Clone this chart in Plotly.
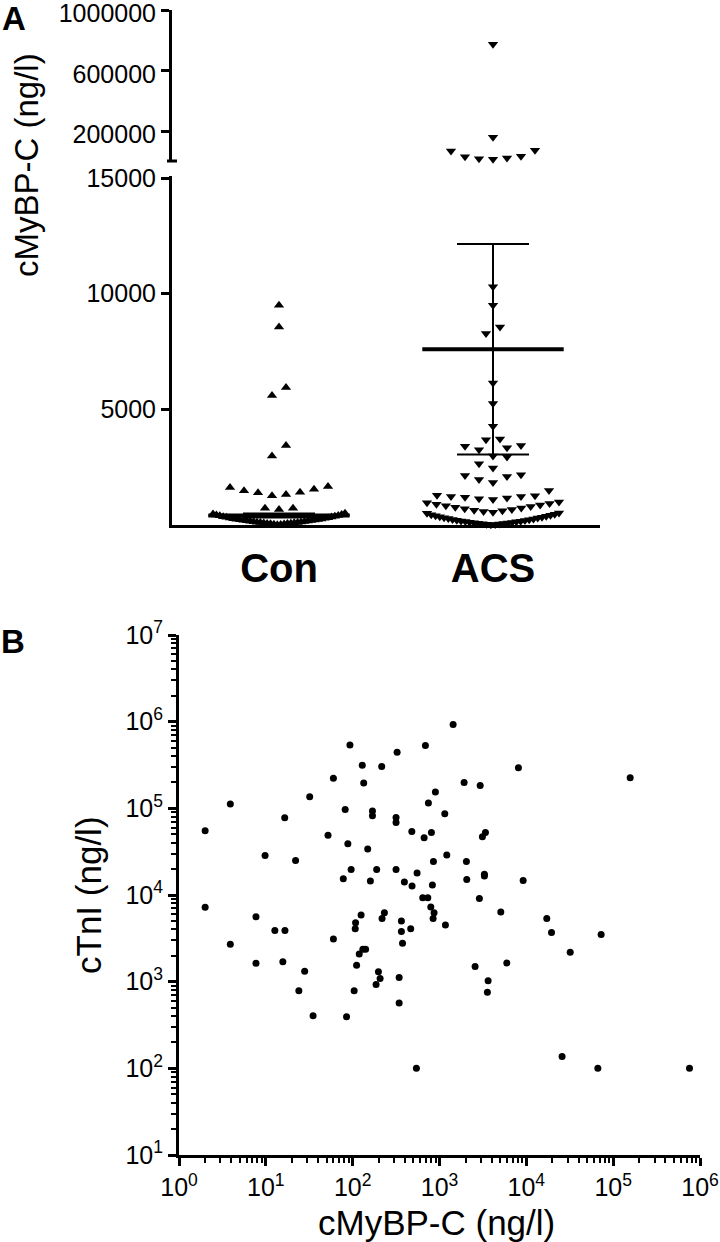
import plotly.graph_objects as go

W, H = 720, 1242

# ---------------- DATA ----------------
categories = ["Con", "ACS"]

con_values = [9500, 8560, 5940, 5600, 3440, 2980, 1667, 1623, 1550, 1480, 1420, 1394,
              1320, 1264, 727, 727, 670,
              12, 25, 33, 41, 52, 60, 68, 77, 85, 93, 104, 112, 121, 133, 140, 152, 161,
              170, 182, 195, 204, 215, 228, 239, 250, 263, 275, 288, 301, 317, 330, 348,
              362, 380, 397, 415, 436, 458, 480, 505]

acs_values = [775000, 163000, 77700, 73000, 38300, 35600, 27000, 22400, 18500,
              10300, 9500, 8560, 8280, 6140, 5250, 4265, 3715, 3690, 3440, 3400, 3340,
              3255, 2980, 2935, 2650, 2460, 2170, 2140, 2100, 1970, 1840,
              1494, 1290, 1262, 1234, 1234, 1200, 1170, 1140, 1105,
              995, 962, 930, 898, 866, 835, 801, 768, 735, 702, 668, 640, 612, 580,
              548, 522, 505,
              15, 22, 31, 48, 55, 63, 78, 86, 97, 112, 124, 138, 149, 163, 177, 192,
              208, 226, 241, 259, 277, 298, 316, 335, 352, 374, 396, 418, 441, 468]

con_mean, con_err = 410, 90
acs_mean, acs_err = 7600, 4550

lower_ticks = [5000, 10000, 15000]
upper_ticks = [200000, 600000, 1000000]

# Panel B: cMyBP-C (x) vs cTnI (y)
mybpc = [2.0, 2.0, 3.9, 3.9, 7.7, 7.7, 12.7, 16.6, 15.7, 28, 24, 35, 85, 60, 104, 111,
         16.5, 9.8, 22, 32, 60, 93, 82, 52, 88, 96, 78, 129, 134, 169, 169, 149, 160,
         125, 108, 107, 131, 141, 119,
         1435, 688, 325, 216, 8110, 157000, 1920, 2940, 897, 745, 1150, 316, 316, 480,
         665, 807, 3380, 3120, 1213, 189, 316, 851, 2040, 552, 394, 483, 828, 2060,
         3290, 3290, 9190, 641, 733, 2880, 794, 866, 844, 232, 218, 364, 466, 364,
         1170, 5080, 17200, 19500, 72700,
         32000, 375, 2570, 5960, 198, 207, 186, 343, 343, 3630, 3560, 25800, 542,
         66600, 757000]
ctni = [55000, 7200, 112000, 2700, 5600, 1630, 3900, 3900, 1700, 1320, 785, 405, 394,
        3100, 785, 1550,
        78000, 28600, 25000, 136000, 223000, 537000, 97000, 49000, 39000, 19700, 15400,
        315000, 196000, 93000, 82000, 34000, 14500,
        5870, 4780, 4080, 2360, 2360, 2080,
        929000, 531000, 445000, 304000, 293000, 225000, 199000, 184000, 154000, 115000,
        86400, 78500, 68800, 54100, 45700, 52700, 52700, 47000, 28900, 19700, 19700,
        24400, 24400, 18000, 14100, 12700, 13000, 15100, 17300, 16600, 14700, 9290,
        9290, 9120, 7250, 6230, 5370, 6230, 5370, 5000, 4080, 3800, 4500, 6350, 5370,
        3700, 3510,
        2190, 2770, 1500, 1640, 1300, 1090, 930, 1120, 566, 1025, 753, 137, 100, 100,
        100]

log_tick_vals = [1, 10, 100, 1000, 10000, 100000, 1000000]
x_tick_text = ["10<sup>0</sup>", "10<sup>1</sup>", "10<sup>2</sup>", "10<sup>3</sup>",
               "10<sup>4</sup>", "10<sup>5</sup>", "10<sup>6</sup>"]
y_log_tick_vals = [10, 100, 1000, 10000, 100000, 1000000, 10000000]
y_tick_text = ["10<sup>1</sup>", "10<sup>2</sup>", "10<sup>3</sup>", "10<sup>4</sup>",
               "10<sup>5</sup>", "10<sup>6</sup>", "10<sup>7</sup>"]

# ---------------- LAYOUT GEOMETRY (pixels) ----------------
FONT = "Liberation Sans, Arial, sans-serif"
AX_L, AX_R = 172, 600            # panel A x-extent
LOW_TOP_PX, LOW_BOT_PX = 176, 525
UP_TOP_PX, UP_BOT_PX = 10, 160
LOW_RANGE = [0, 15090]
UP_RANGE = [14000, 1000000]
B_L, B_R, B_T, B_B = 179, 700, 635, 1155


def fx(p):
    return p / W


def fy(p):
    return 1 - p / H


def val_to_px(v):
    if v <= LOW_RANGE[1]:
        return LOW_BOT_PX - (v - LOW_RANGE[0]) / (LOW_RANGE[1] - LOW_RANGE[0]) * (LOW_BOT_PX - LOW_TOP_PX)
    return UP_BOT_PX - (v - UP_RANGE[0]) / (UP_RANGE[1] - UP_RANGE[0]) * (UP_BOT_PX - UP_TOP_PX)


def swarm(values, spacing=14.0, max_half=66.0, row_h=12.0):
    order = sorted(range(len(values)), key=lambda i: values[i])
    rows, cur, start = [], [], None
    for i in order:
        p = val_to_px(values[i])
        if cur and abs(start - p) > row_h:
            rows.append(cur)
            cur = []
        if not cur:
            start = p
        cur.append(i)
    if cur:
        rows.append(cur)
    offs = [0.0] * len(values)
    for row in rows:
        n = len(row)
        s = spacing if n <= 1 else min(spacing, 2 * max_half / (n - 1))
        c = (n - 1) / 2
        slots = sorted(range(n), key=lambda k: (abs(k - c), k))
        for idx, slot in zip(row, slots):
            offs[idx] = (slot - c) * s
    return offs


px_per_unit = (AX_R - AX_L) / 2.0


def positions(values, center):
    return [center + o / px_per_unit for o in swarm(values)]


con_x = positions(con_values, 0)
acs_x = positions(acs_values, 1)

fig = go.Figure()

MS = 9
split = LOW_RANGE[1]
for vals, xs, sym in [(con_values, con_x, "triangle-up"), (acs_values, acs_x, "triangle-down")]:
    lo = [(x, v) for x, v in zip(xs, vals) if v <= split]
    hi = [(x, v) for x, v in zip(xs, vals) if v > split]
    if lo:
        fig.add_trace(go.Scatter(x=[p[0] for p in lo], y=[p[1] for p in lo], mode="markers",
                                 marker=dict(symbol=sym, size=MS, color="black"),
                                 xaxis="x", yaxis="y", showlegend=False, cliponaxis=False))
    if hi:
        fig.add_trace(go.Scatter(x=[p[0] for p in hi], y=[p[1] for p in hi], mode="markers",
                                 marker=dict(symbol=sym, size=MS, color="black"),
                                 xaxis="x2", yaxis="y2", showlegend=False, cliponaxis=False))

# mean lines (line-ew width = 1.4 * size) + error bars
fig.add_trace(go.Scatter(x=[0, 1], y=[con_mean, acs_mean], mode="markers",
                         marker=dict(symbol="line-ew-open", size=101, color="black",
                                     line=dict(width=4, color="black")),
                         error_y=dict(type="data", array=[con_err, acs_err], visible=True,
                                      color="black", thickness=2, width=36),
                         xaxis="x", yaxis="y", showlegend=False, cliponaxis=False))

# Panel B scatter
fig.add_trace(go.Scatter(x=mybpc, y=ctni, mode="markers",
                         marker=dict(symbol="circle", size=7, color="black"),
                         xaxis="x3", yaxis="y3", showlegend=False, cliponaxis=False))

axis_common = dict(showgrid=False, zeroline=False, showline=True, linecolor="black",
                   linewidth=3, ticks="outside", tickcolor="black", tickwidth=2.5,
                   ticklen=8, automargin=False, ticklabeloverflow="allow",
                   tickfont=dict(family=FONT, size=25, color="black"))

minor_x = [m * 10 ** e for e in range(0, 6) for m in range(2, 10)]
minor_y = [m * 10 ** e for e in range(1, 7) for m in range(2, 10)]

fig.update_layout(
    width=W, height=H, margin=dict(l=0, r=0, t=0, b=0, autoexpand=False),
    paper_bgcolor="white", plot_bgcolor="white",
    font=dict(family=FONT, color="black"),
    xaxis=dict(domain=[fx(AX_L), fx(AX_R)], range=[-0.5, 1.5], anchor="y", automargin=False,
               showgrid=False, zeroline=False, showline=True, linecolor="black", linewidth=3,
               tickvals=[0, 1], ticktext=categories, ticks="", ticklabelstandoff=6,
               ticklabeloverflow="allow",
               tickfont=dict(family=FONT, size=40, color="black", weight="bold")),
    yaxis=dict(domain=[fy(LOW_BOT_PX), fy(LOW_TOP_PX)], range=LOW_RANGE, anchor="x",
               tickvals=lower_ticks, ticktext=[str(v) for v in lower_ticks], **axis_common),
    xaxis2=dict(domain=[fx(AX_L), fx(AX_R)], range=[-0.5, 1.5], anchor="y2", visible=False,
                automargin=False),
    yaxis2=dict(domain=[fy(UP_BOT_PX), fy(UP_TOP_PX)], range=UP_RANGE, anchor="x2",
                tickvals=upper_ticks, ticktext=[str(v) for v in upper_ticks],
                ticklabelshift=3, **axis_common),
    xaxis3=dict(domain=[fx(B_L), fx(B_R)], type="log", range=[0, 6], anchor="y3",
                tickvals=log_tick_vals, ticktext=x_tick_text,
                minor=dict(tickvals=minor_x, ticks="outside", ticklen=5, tickwidth=2,
                           tickcolor="black"),
                **axis_common),
    yaxis3=dict(domain=[fy(B_B), fy(B_T)], type="log", range=[1, 7], anchor="x3",
                tickvals=y_log_tick_vals, ticktext=y_tick_text,
                minor=dict(tickvals=minor_y, ticks="outside", ticklen=5, tickwidth=2,
                           tickcolor="black"),
                **axis_common),
)

fig.add_annotation(text="cMyBP-C (ng/l)", xref="paper", yref="paper", x=fx(26), y=fy(165),
                   textangle=-90, showarrow=False, font=dict(family=FONT, size=33, color="black"),
                   xanchor="center", yanchor="middle")
fig.add_annotation(text="cTnI (ng/l)", xref="paper", yref="paper", x=fx(88), y=fy(895),
                   textangle=-90, showarrow=False, font=dict(family=FONT, size=35, color="black"),
                   xanchor="center", yanchor="middle")
fig.add_annotation(text="cMyBP-C (ng/l)", xref="paper", yref="paper", x=fx(437), y=fy(1222),
                   showarrow=False, font=dict(family=FONT, size=35, color="black"),
                   xanchor="center", yanchor="middle")
fig.add_annotation(text="<b>A</b>", xref="paper", yref="paper", x=fx(14), y=fy(19),
                   showarrow=False, font=dict(family=FONT, size=33, color="black"),
                   xanchor="center", yanchor="middle")
fig.add_annotation(text="<b>B</b>", xref="paper", yref="paper", x=fx(13), y=fy(641),
                   showarrow=False, font=dict(family=FONT, size=33, color="black"),
                   xanchor="center", yanchor="middle")

# small end mark of the upper axis segment (axis break)
fig.add_shape(type="line", xref="paper", yref="paper", x0=fx(167), x1=fx(177),
              y0=fy(UP_BOT_PX + 1), y1=fy(UP_BOT_PX + 1), line=dict(color="black", width=3))

fig.write_html("out.html", config={"displayModeBar": False},
               post_script="document.body.style.margin='0';document.body.style.overflow='hidden';")
